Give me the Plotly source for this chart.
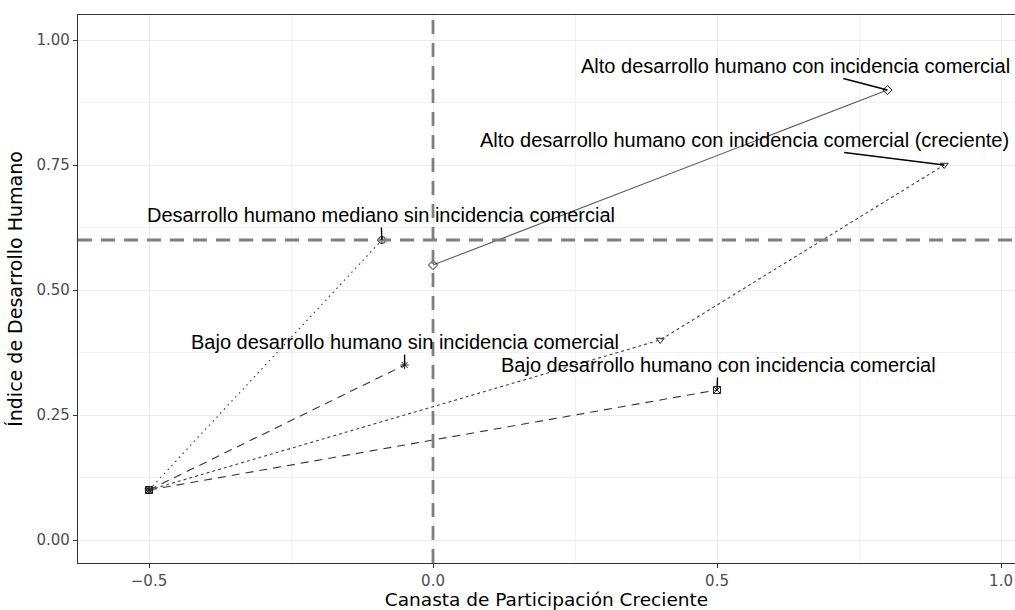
import plotly.graph_objects as go

# series, each starts at the common origin point
alto_x = [0.0, 0.8]
alto_y = [0.55, 0.90]
creciente_x = [-0.5, 0.4, 0.9]
creciente_y = [0.10, 0.40, 0.75]
mediano_x = [-0.5, -0.09]
mediano_y = [0.10, 0.60]
bajo_sin_x = [-0.5, -0.05]
bajo_sin_y = [0.10, 0.35]
bajo_con_x = [-0.5, 0.5]
bajo_con_y = [0.10, 0.30]

labels = ["Alto desarrollo humano con incidencia comercial",
          "Alto desarrollo humano con incidencia comercial (creciente)",
          "Desarrollo humano mediano sin incidencia comercial",
          "Bajo desarrollo humano sin incidencia comercial",
          "Bajo desarrollo humano con incidencia comercial"]
label_x = [0.8, 0.9, -0.09, -0.05, 0.5]
label_y = [0.90, 0.75, 0.60, 0.35, 0.30]
# pixel offset of each label from its point (repel look)
label_off = [(-92, -24), (-200, -25), (-1, -25), (0, -23), (1, -25)]

v_line = 0.0
h_line = 0.6

fig = go.Figure()

series = [
    (alto_x, alto_y, "solid", "diamond-open", "#595959"),
    (creciente_x, creciente_y, "3px,3px", "triangle-down-open", "#404040"),
    (mediano_x, mediano_y, "1.5px,4px", "circle-cross-open", "#333333"),
    (bajo_sin_x, bajo_sin_y, "8px,6px", "asterisk-open", "#333333"),
    (bajo_con_x, bajo_con_y, "8px,6px", "square-x-open", "#333333"),
]
for xs, ys, dash, sym, col in series:
    fig.add_trace(go.Scatter(x=xs, y=ys, mode="lines+markers",
                             line=dict(color=col, width=1.1, dash=dash),
                             marker=dict(symbol=sym, size=7, color="#222222",
                                         line=dict(width=1, color="#222222")),
                             showlegend=False, hoverinfo="skip"))

fig.add_vline(x=v_line, line=dict(color="#7F7F7F", width=2.8, dash="14px,9px"))
fig.add_hline(y=h_line, line=dict(color="#7F7F7F", width=2.8, dash="14px,9px"))

for txt, px, py, (ax, ay) in zip(labels, label_x, label_y, label_off):
    fig.add_annotation(x=px, y=py, text=txt, showarrow=True, arrowhead=0,
                       arrowwidth=1.4, arrowcolor="black", ax=ax, ay=ay,
                       font=dict(family="Liberation Sans, Arial", size=20, color="black"))

axis_font = dict(family="DejaVu Sans", size=15, color="#4D4D4D")

fig.update_xaxes(range=[-0.625, 1.0246], tick0=0, dtick=0.5, tickformat=".1f",
                 showgrid=True, gridcolor="#EBEBEB", gridwidth=1.2,
                 minor=dict(dtick=0.25, tick0=0, showgrid=True, gridcolor="#F2F2F2", gridwidth=0.8),
                 showline=True, linecolor="#333333", linewidth=1.3, mirror=True,
                 ticks="outside", ticklen=4, tickcolor="#333333",
                 zeroline=False, tickfont=axis_font,
                 title=dict(text="Canasta de Participación Creciente",
                            font=dict(family="DejaVu Sans", size=18.5, color="black"), standoff=3))
fig.update_yaxes(range=[-0.046, 1.05], tick0=0, dtick=0.25, tickformat=".2f",
                 showgrid=True, gridcolor="#EBEBEB", gridwidth=1.2,
                 minor=dict(dtick=0.125, tick0=0, showgrid=True, gridcolor="#F2F2F2", gridwidth=0.8),
                 showline=True, linecolor="#333333", linewidth=1.3,
                 ticks="outside", ticklen=4, tickcolor="#333333",
                 zeroline=False, tickfont=axis_font,
                 title=dict(text="Índice de Desarrollo Humano",
                            font=dict(family="DejaVu Sans", size=19, color="black"), standoff=8))

fig.update_layout(width=1015, height=610, plot_bgcolor="white", paper_bgcolor="white",
                  margin=dict(l=78, r=0, t=15, b=47, autoexpand=False))

fig.write_html("out.html", config={"displayModeBar": False},
               post_script="document.body.style.margin='0';")
